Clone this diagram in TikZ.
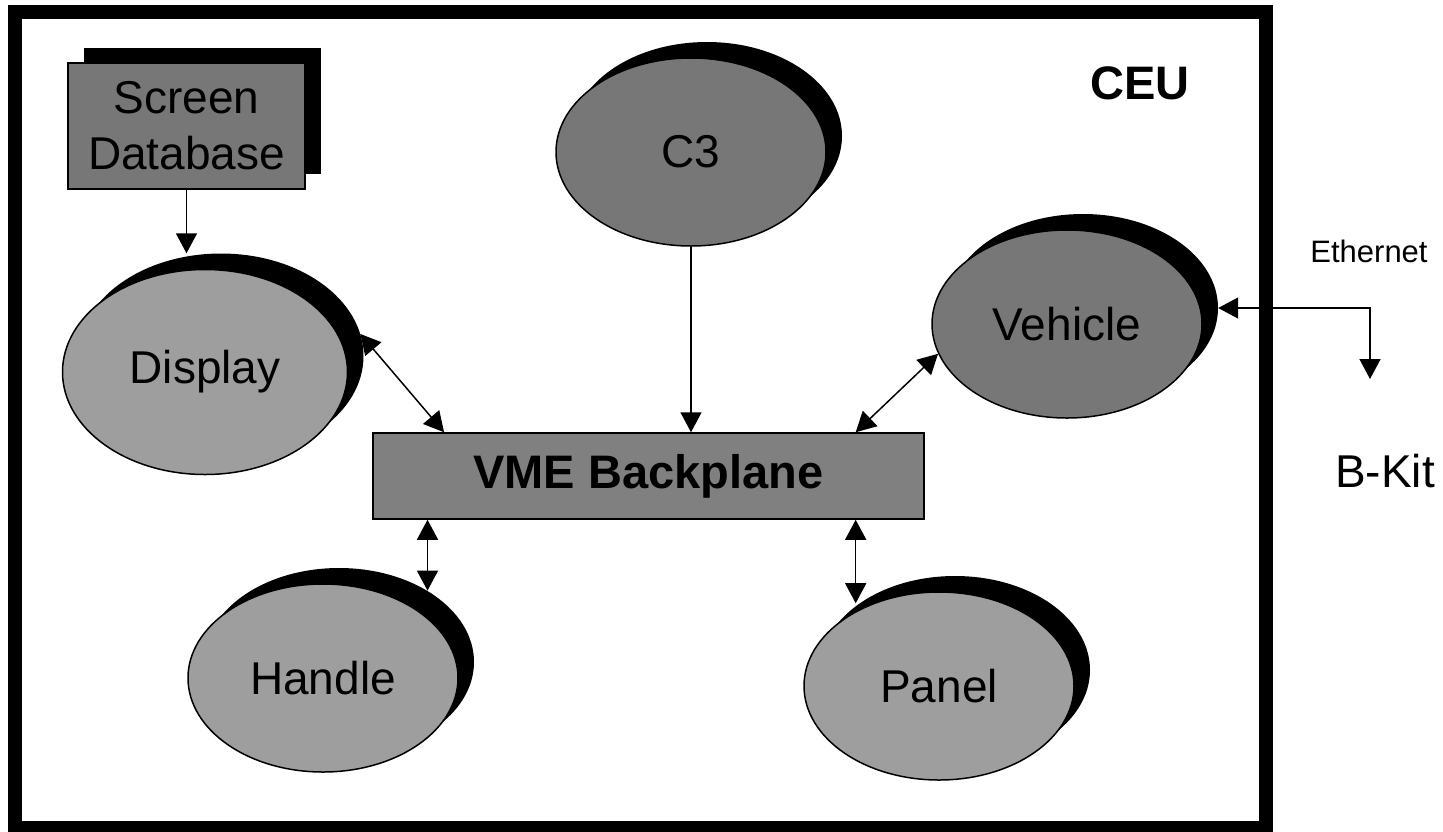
\documentclass[tikz,border=0pt]{standalone}
\usepackage{fontspec}
\setmainfont{Liberation Sans}
\usepackage{tikz}
\usetikzlibrary{calc,shapes.geometric,arrows.meta}

\definecolor{darkfill}{RGB}{119,119,119}
\definecolor{lightfill}{RGB}{158,158,158}
\definecolor{busfill}{RGB}{128,128,128}

\tikzset{
	bigtext/.style={font=\fontsize{46}{56}\selectfont},
	proc/.style={ellipse, draw, line width=1.5pt, minimum width=270pt, minimum height=188pt, inner sep=0pt, bigtext},
	procsh/.style={ellipse, fill=black, minimum width=270pt, minimum height=188pt, inner sep=0pt},
	wideproc/.style={minimum width=285pt, minimum height=205pt},
	store/.style={rectangle, draw, line width=1.5pt, fill=darkfill, minimum width=237pt, minimum height=126pt, inner sep=0pt, align=center, bigtext},
	storesh/.style={rectangle, fill=black, minimum width=237pt, minimum height=126pt, inner sep=0pt},
	link/.style={line width=1.5pt, >={Triangle[length=20pt,width=21pt]}}
}

\begin{document}
\begin{tikzpicture}[x=1pt,y=-1pt]
		\useasboundingbox (0,0) rectangle (1443,831);
		% outer frame
		\draw[line width=14pt] (14.5,12) rectangle (1266,828);
		% shadows
		\node[storesh] (screendbsh) at (202,111) {};
		\node[procsh, wideproc] (displaysh) at (221,356) {};
		\node[procsh] (c3sh) at (707,136) {};
		\node[procsh] (vehiclesh) at (1083,308) {};
		\node[procsh] (handlesh) at (339,662) {};
		\node[procsh] (panelsh) at (955,670) {};
		% blocks
		\node[store] (screendb) at (186.5,126) {Screen\\Database};
		\node[proc, wideproc, fill=lightfill] (display) at (205,372) {Display};
		\node[proc, fill=darkfill] (c3) at (691,152) {C3};
		\node[proc, fill=darkfill] (vehicle) at (1067,324) {Vehicle};
		\node[proc, fill=lightfill] (handle) at (323,678) {Handle};
		\node[proc, fill=lightfill] (panel) at (939,686) {Panel};
		\node[rectangle, draw, line width=1.5pt, fill=busfill, minimum width=551pt, minimum height=86pt,
			font=\fontsize{47}{56}\selectfont\bfseries] (vme) at (648.5,476) {VME Backplane};
		% labels
		\node[font=\fontsize{47}{56}\selectfont\bfseries] (ceu) at (1140,83) {CEU};
		\node[font=\fontsize{31}{36}\selectfont] (ethernet) at (1369,251) {Ethernet};
		\node[bigtext] (bkit) at (1385,471) {B-Kit};
		% connectors
		\coordinate (busnw) at ($(vme.north west)!0.13!(vme.north east)$);
		\coordinate (busne) at ($(vme.north west)!0.875!(vme.north east)$);
		\coordinate (bussw) at ($(vme.south west)!0.1!(vme.south east)$);
		\coordinate (busse) at ($(vme.south west)!0.875!(vme.south east)$);
		\coordinate (bkitend) at (1370,379);
		\draw[link, ->] (screendb.south) -- (screendb.south |- displaysh.north);
		\draw[link, <->] (displaysh.9) -- (busnw);
		\draw[link, ->] (c3.south) -- (c3.south |- vme.north);
		\draw[link, <->] (vehicle.193) -- (busne);
		\draw[link, <->] (bussw) -- (bussw |- handlesh.39);
		\draw[link, <->] (busse) -- (busse |- panelsh.145);
		\draw[link, <->] (vehiclesh.east) -| (bkitend);
	\end{tikzpicture}
\end{document}
